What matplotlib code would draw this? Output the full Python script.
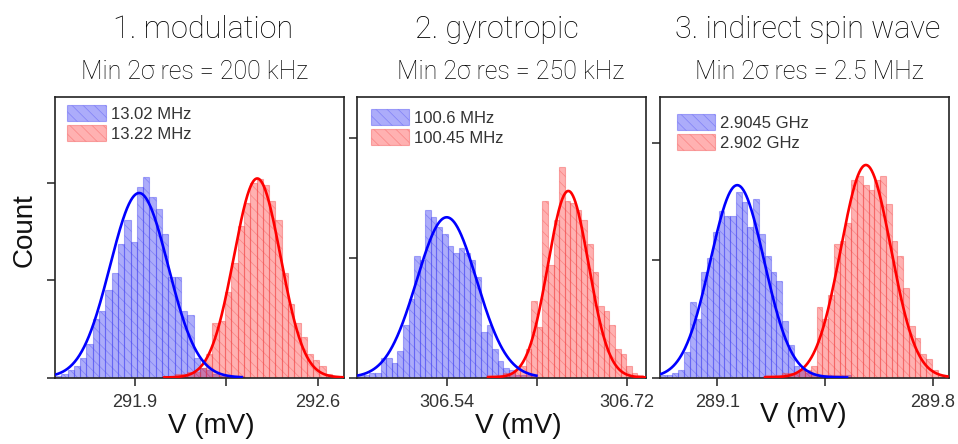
import numpy as np
import matplotlib
matplotlib.use("Agg")
import matplotlib.pyplot as plt
from matplotlib.ticker import FixedLocator, NullFormatter

# ---------------------------------------------------------------- data
titles = ["1. modulation", "2. gyrotropic", "3. indirect spin wave"]
subtitles = ["Min 2\u03c3 res = 200 kHz", "Min 2\u03c3 res = 250 kHz", "Min 2\u03c3 res = 2.5 MHz"]

legend_blue = ["13.02 MHz", "100.6 MHz", "2.9045 GHz"]
legend_red = ["13.22 MHz", "100.45 MHz", "2.902 GHz"]

# histogram bins: first edge (mV) and bin width (mV) for each panel
bin_start = [291.594, 306.4516, 288.917]
bin_width = [0.0241, 0.00558, 0.01874]

# panel 1 (modulation) counts
mod_blue_first = 0
mod_blue = [1, 2, 4, 6, 10, 17, 30, 34, 45, 54, 69, 81, 70, 98, 103, 93, 87, 74,
            52, 52, 34, 32, 10, 5, 4, 2, 1, 1, 1, 1]
mod_red_first = 17
mod_red = [1, 1, 2, 2, 3, 3, 5, 12, 28, 29, 44, 59, 78, 90, 100, 102, 99, 91, 81,
           54, 38, 28, 21, 12, 9, 6, 2, 1]

# panel 2 (gyrotropic) counts
gyr_blue_first = 0
gyr_blue = [1, 1, 2, 2, 8, 8, 6, 11, 22, 33, 51, 49, 70, 67, 63, 60, 55, 52, 54,
            52, 49, 42, 19, 22, 12, 7, 4, 3, 1, 1, 1, 1]
gyr_red_first = 23
gyr_red = [1, 1, 1, 2, 2, 3, 5, 12, 32, 21, 74, 47, 66, 88, 74, 73, 70, 66, 56,
           44, 30, 28, 22, 12, 10, 5, 2, 1]

# panel 3 (indirect spin wave) counts
isw_blue_first = 0
isw_blue = [1, 1, 2, 3, 11, 32, 25, 45, 51, 62, 71, 69, 69, 79, 75, 64, 76, 61,
            52, 45, 41, 24, 14, 5, 3, 2, 1, 1, 1, 1, 1, 1, 1]
isw_red_first = 18
isw_red = [1, 1, 1, 2, 2, 2, 3, 3, 5, 30, 25, 35, 57, 58, 66, 84, 86, 82, 80, 84,
           86, 74, 58, 52, 38, 22, 17, 10, 8, 3, 1, 1]

blue_counts = [mod_blue, gyr_blue, isw_blue]
blue_first = [mod_blue_first, gyr_blue_first, isw_blue_first]
red_counts = [mod_red, gyr_red, isw_red]
red_first = [mod_red_first, gyr_red_first, isw_red_first]

# Gaussian fits: centre (mV), sigma (mV), amplitude (counts), drawn range (mV)
blue_mu = [291.916, 306.540, 289.165]
blue_sigma = [0.111, 0.030, 0.0875]
blue_amp = [95.0, 67.0, 82.0]
blue_range = [(291.594, 292.313), (306.4503, 306.631), (288.914, 289.526)]

red_mu = [292.368, 306.6616, 289.583]
red_sigma = [0.0895, 0.0203, 0.0815]
red_amp = [102.5, 78.0, 90.6]
red_range = [(292.008, 292.700), (306.580, 306.7393), (289.251, 289.852)]

xticks_major = [[291.9, 292.6], [306.54, 306.72], [289.1, 289.8]]
xticks_minor = [[292.25], [306.63], [289.45]]
xlims = [(291.593, 292.700), (306.4503, 306.7393), (288.914, 289.852)]
ylims = [144.7, 117.5, 119.8]
yticks = [0, 50, 100]

# ---------------------------------------------------------------- style
plt.rcParams["font.family"] = ["Liberation Sans", "DejaVu Sans"]
plt.rcParams["hatch.linewidth"] = 0.5

BLUE_FACE = (0.05, 0.05, 0.95, 0.34)
BLUE_EDGE = (0.25, 0.25, 0.95, 0.40)
RED_FACE = (1.0, 0.05, 0.05, 0.32)
RED_EDGE = (0.95, 0.25, 0.25, 0.40)
HATCH = "\\\\\\"
SPINE = "#222222"
TEXT = "#333333"
TITLE_FONT = ["Roboto", "DejaVu Sans"]

W, H = 958, 444
fig = plt.figure(figsize=(W / 100, H / 100), dpi=100)

axes_px = [(54.7, 344.0), (357.0, 646.0), (660.0, 948.7)]
top_px, bot_px = 96.5, 377.5
legend_anchor = [(12.6, 8.5), (13.7, 12.8), (16.7, 17.8)]
title_cx = [203, 497, 808]
sub_cx = [195, 511, 809]
xlabel_px = [(211, 426), (518, 426), (803, 415)]


def gauss(x, mu, sigma, amp):
    return amp * np.exp(-0.5 * ((x - mu) / sigma) ** 2)


for i in range(3):
    l, r = axes_px[i]
    ax = fig.add_axes([l / W, 1 - bot_px / H, (r - l) / W, (bot_px - top_px) / H])

    w = bin_width[i]
    xb = bin_start[i] + w * (blue_first[i] + np.arange(len(blue_counts[i])))
    xr = bin_start[i] + w * (red_first[i] + np.arange(len(red_counts[i])))

    ax.bar(xb, blue_counts[i], width=w, align="edge", facecolor=BLUE_FACE,
           edgecolor=BLUE_EDGE, linewidth=0.8, hatch=HATCH, label=legend_blue[i],
           zorder=2)
    ax.bar(xr, red_counts[i], width=w, align="edge", facecolor=RED_FACE,
           edgecolor=RED_EDGE, linewidth=0.8, hatch=HATCH, label=legend_red[i],
           zorder=2)

    xs = np.linspace(*red_range[i], 400)
    ax.plot(xs, gauss(xs, red_mu[i], red_sigma[i], red_amp[i]), color="#ff0000",
            lw=1.9, zorder=3, solid_capstyle="butt")
    xs = np.linspace(*blue_range[i], 400)
    ax.plot(xs, gauss(xs, blue_mu[i], blue_sigma[i], blue_amp[i]), color="#0000ff",
            lw=1.9, zorder=4, solid_capstyle="butt")

    ax.set_xlim(*xlims[i])
    ax.set_ylim(0, ylims[i])

    ax.xaxis.set_major_locator(FixedLocator(xticks_major[i]))
    ax.xaxis.set_minor_locator(FixedLocator(xticks_minor[i]))
    ax.xaxis.set_minor_formatter(NullFormatter())
    ax.set_xticklabels([f"{v:g}" for v in xticks_major[i]])
    ax.set_yticks(yticks)
    ax.set_yticklabels([])
    ax.tick_params(axis="both", which="both", direction="out", length=6,
                   width=1.1, color=SPINE, labelsize=13, labelcolor=TEXT, pad=6)
    for s in ax.spines.values():
        s.set_color(SPINE)
        s.set_linewidth(1.2)

    ax_w = r - l
    ax_h = bot_px - top_px
    dx, dy = legend_anchor[i]
    ax.legend(loc="upper left", bbox_to_anchor=(dx / ax_w, 1 - dy / ax_h),
              frameon=False, fontsize=12, borderpad=0, borderaxespad=0,
              handlelength=2.3, handleheight=1.1, handletextpad=0.3,
              labelspacing=0.2, labelcolor=TEXT)

    fig.text(title_cx[i] / W, 1 - 29 / H, titles[i], ha="center", va="center",
             fontsize=22, family=TITLE_FONT, fontweight="light", color="black")
    fig.text(sub_cx[i] / W, 1 - 72 / H, subtitles[i], ha="center", va="center",
             fontsize=18, family=TITLE_FONT, fontweight="light", color="black")

    fx, fy = xlabel_px[i]
    fig.text(fx / W, 1 - fy / H, "V (mV)", ha="center", va="center",
             fontsize=20, color="#111111")

fig.text(25 / W, 1 - 230 / H, "Count", ha="center", va="center", rotation=90,
         fontsize=20, color="#111111")

fig.savefig("out.png", dpi=100)
